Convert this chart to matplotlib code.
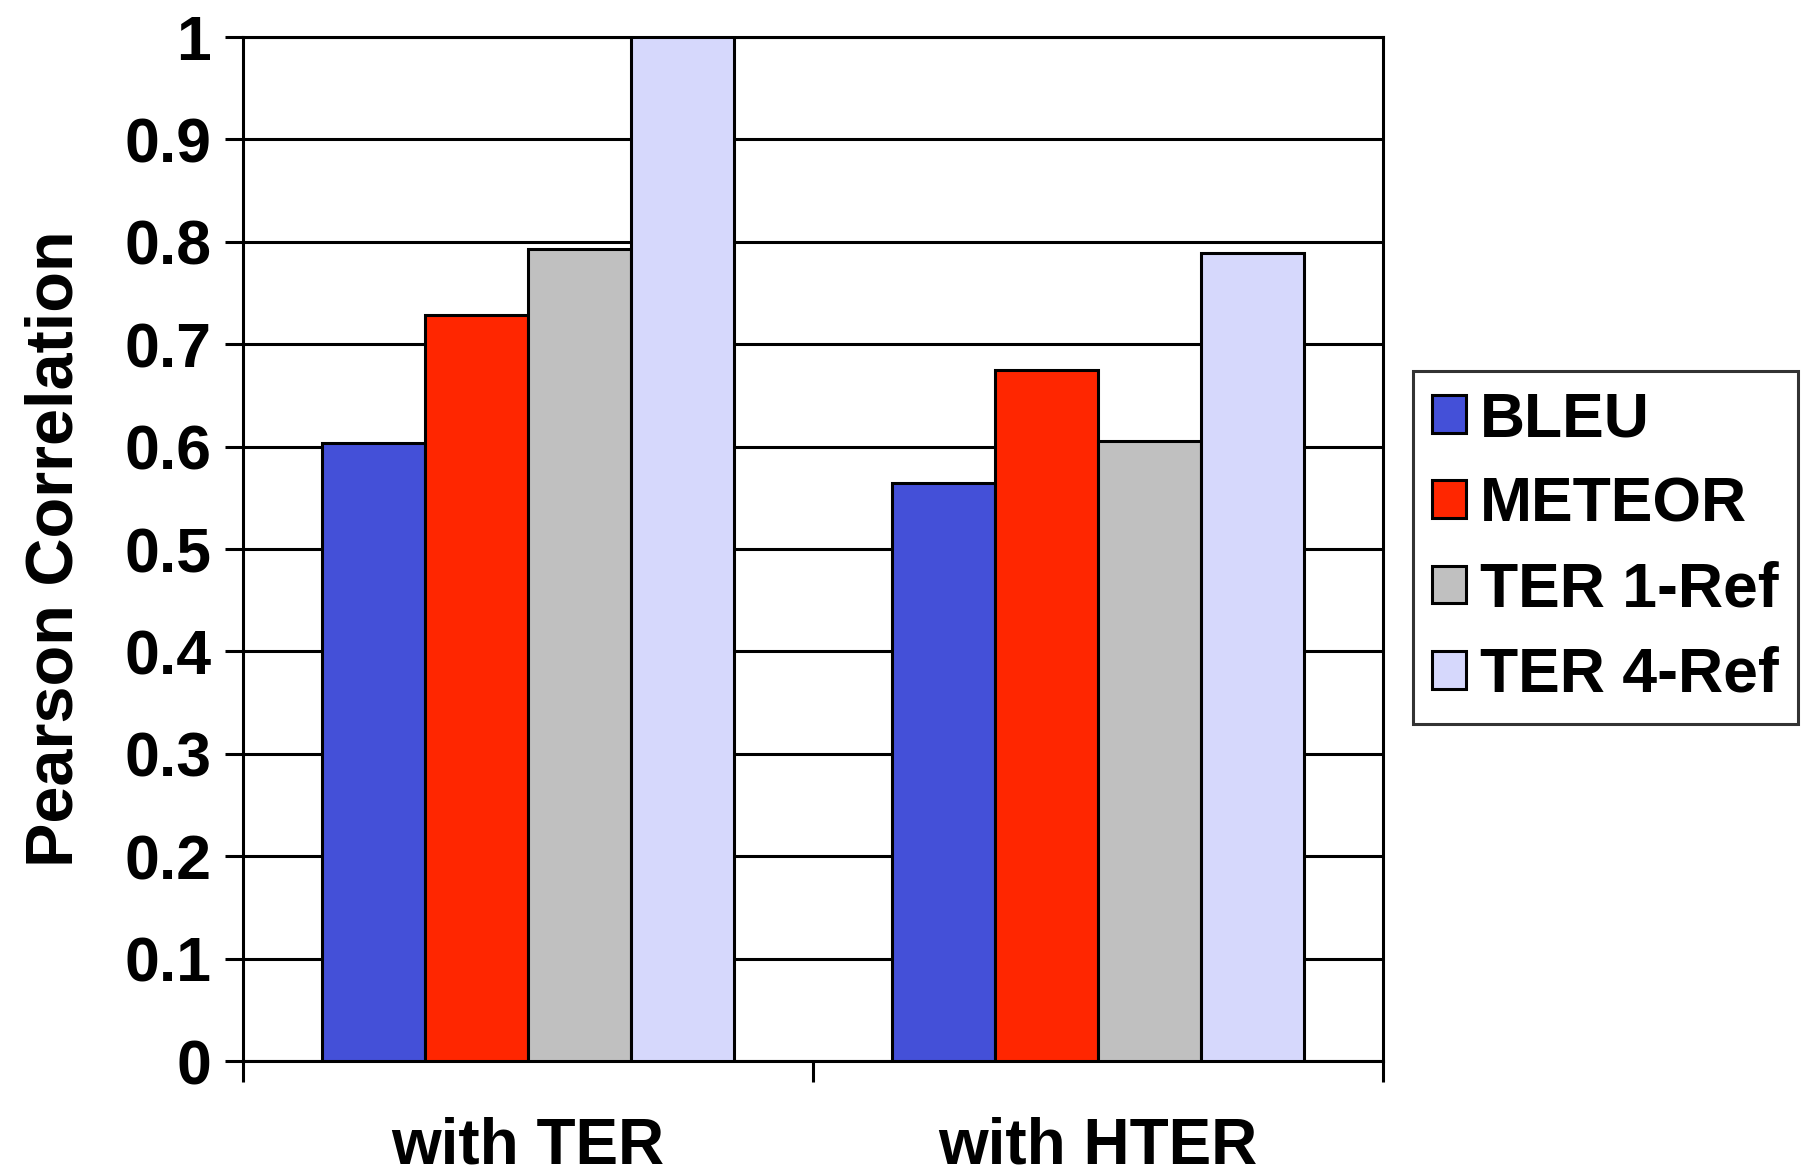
import matplotlib.pyplot as plt
import numpy as np

plt.rcParams['font.family'] = ['Liberation Sans', 'DejaVu Sans']
plt.rcParams['font.weight'] = 'bold'

groups = ['with TER', 'with HTER']
metrics = ['BLEU', 'METEOR', 'TER 1-Ref', 'TER 4-Ref']
bleu = [0.604, 0.564]
meteor = [0.729, 0.675]
ter_1ref = [0.793, 0.605]
ter_4ref = [1.0, 0.789]
colors = ['#4450D8', '#FF2600', '#C0C0C0', '#D6D8FC']
yticks = [0, 0.1, 0.2, 0.3, 0.4, 0.5, 0.6, 0.7, 0.8, 0.9, 1]
ytick_labels = ['0', '0.1', '0.2', '0.3', '0.4', '0.5', '0.6', '0.7', '0.8', '0.9', '1']

fig = plt.figure(figsize=(18.06, 11.75), dpi=100)
ax = fig.add_axes([0.1346, 0.097, 0.6312, 0.8715])

x = np.arange(len(groups))
w = 0.181
series = [bleu, meteor, ter_1ref, ter_4ref]
for i, (vals, name, c) in enumerate(zip(series, metrics, colors)):
    ax.bar(x + (i - 1.5) * w, vals, w, color=c, edgecolor='black',
           linewidth=2.2, label=name, zorder=3)

ax.set_xlim(-0.5, 1.5)
ax.set_ylim(0, 1)
ax.set_yticks(yticks)
ax.set_yticklabels(ytick_labels, fontsize=45, fontweight='bold')
ax.yaxis.grid(True, color='black', linewidth=2.2, zorder=0)

# category boundaries get the tick marks, centres get the labels
ax.set_xticks([-0.5, 0.5, 1.5])
ax.set_xticklabels([])
ax.set_xticks(x, minor=True)
ax.set_xticklabels(groups, minor=True, fontsize=46, fontweight='bold')
ax.tick_params(axis='x', which='major', length=15, width=2.2, direction='out')
ax.tick_params(axis='x', which='minor', length=0, pad=40)
ax.tick_params(axis='y', length=13, width=2.2, direction='out', pad=10)

for s in ax.spines.values():
    s.set_linewidth(2.2)
    s.set_color('black')

ax.set_ylabel('Pearson Correlation', fontsize=48, fontweight='bold', labelpad=27)

leg = fig.legend(loc='center left', bbox_to_anchor=(0.7825, 0.534),
                 fontsize=45, frameon=True, fancybox=False,
                 handlelength=0.55, handleheight=0.55, handletextpad=0.22,
                 labelspacing=0.42, borderpad=0.3, borderaxespad=0)
leg.get_frame().set_edgecolor('black')
leg.get_frame().set_linewidth(2.2)
for t in leg.get_texts():
    t.set_fontweight('bold')

fig.savefig('out.png', dpi=100)
